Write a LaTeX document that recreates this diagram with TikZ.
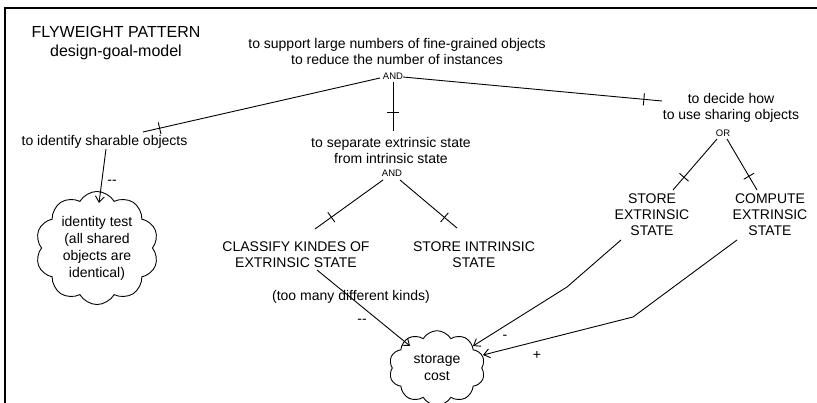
\documentclass[tikz,border=0pt]{standalone}
\usepackage{fontspec}
\setmainfont{Liberation Sans}
\usetikzlibrary{arrows.meta,shapes.symbols,decorations.markings,calc}

\begin{document}
\begin{tikzpicture}[x=1pt,y=-1pt,
  lbl/.style={inner sep=0pt, align=center, font=\fontsize{14}{16}\selectfont},
  gate/.style={inner sep=0pt, font=\fontsize{9.5}{11}\selectfont},
  link/.style={line width=0.9pt},
  infl/.style={link, -{Straight Barb[length=6pt,width=9pt]}},
  tickat/.style={postaction={decorate, decoration={markings,
      mark=at position #1 with {\draw[line width=0.9pt] (0,-6) -- (0,6);}}}},
  softgoal/.style={draw, line width=0.9pt, cloud, cloud puffs=10,
      cloud puff arc=120, inner sep=0pt, align=center,
      font=\fontsize{14}{17}\selectfont},
]
\useasboundingbox (0,0) rectangle (817,403);

% frame
\draw[line width=1.6pt] (5,420) -- (5,8) -- (840,8);

% goals and operationalisations
\node[lbl, font=\fontsize{16}{19.5}\selectfont] (title) at (116,43) {FLYWEIGHT PATTERN\\design-goal-model};
\node[lbl] (top) at (397,51.5) {to support large numbers of fine-grained objects\\to reduce the number of instances};
\node[gate] (andA) at (393,76) {AND};
\node[lbl] (g1) at (104.5,142) {to identify sharable objects};
\node[lbl] (g2) at (391,150) {to separate extrinsic state\\from intrinsic state};
\node[gate] (andB) at (392,173) {AND};
\node[lbl] (g3) at (731,108) {to decide how\\to use sharing objects};
\node[gate] (orC) at (723,133) {OR};
\node[lbl] (t1) at (296,255) {CLASSIFY KINDES OF\\EXTRINSIC STATE};
\node[lbl] (t2) at (474,255) {STORE INTRINSIC\\STATE};
\node[lbl] (t3) at (652,215) {STORE\\EXTRINSIC\\STATE};
\node[lbl] (t4) at (770,215) {COMPUTE\\EXTRINSIC\\STATE};
\node[softgoal, minimum width=123pt, minimum height=87pt] (cl1) at (97,248)
  {identity test\\(all shared\\objects are\\identical)};
\node[softgoal, minimum width=96pt, minimum height=50pt] (cl2) at (437,368) {storage\\cost};
\node[lbl] (why) at (351,297) {(too many different kinds)};

% contribution labels
\node[lbl] (c1) at (112,182) {-\kern0pt-};
\node[lbl] (c2) at (362,321) {-\kern0pt-};
\node[lbl] (c3) at (505,337) {-};
\node[lbl] (c4) at (537,355) {+};

% decomposition links
\draw[link, tickat=0.93] ($(andA)+(-13,2)$) -- ($(g1)+(38.5,-10)$);
\draw[link, tickat=0.63] ($(andA)+(0,6)$) -- ($(g2)+(2,-19)$);
\draw[link, tickat=0.93] ($(andA)+(10,1)$) -- ($(g3)+(-69,-7)$);
\draw[link, tickat=0.76] ($(andB)+(-9,7)$) -- ($(t1)+(19,-26)$);
\draw[link, tickat=0.78] ($(andB)+(8,7)$) -- ($(t2)+(-17,-27)$);
\draw[link, tickat=0.75] ($(orC)+(-6,6)$) -- ($(t3)+(21,-25)$);
\draw[link, tickat=0.73] ($(orC)+(4,6)$) -- ($(t4)+(-13,-25)$);

% contribution links
\draw[infl] ($(g1)+(1.5,7)$) -- ($(cl1)+(2,-45)$);
\draw[infl] ($(t1)+(21,15)$) -- ($(cl2)+(-27,-22)$);
\draw[infl] ($(t3)+(-31,25)$) -- ($(t3)+(-85,72)$) -- ($(cl2)+(36,-22)$);
\draw[infl] ($(t4)+(-33,25)$) -- ($(t4)+(-137,102)$) -- ($(cl2)+(46,-13)$);
\end{tikzpicture}
\end{document}
